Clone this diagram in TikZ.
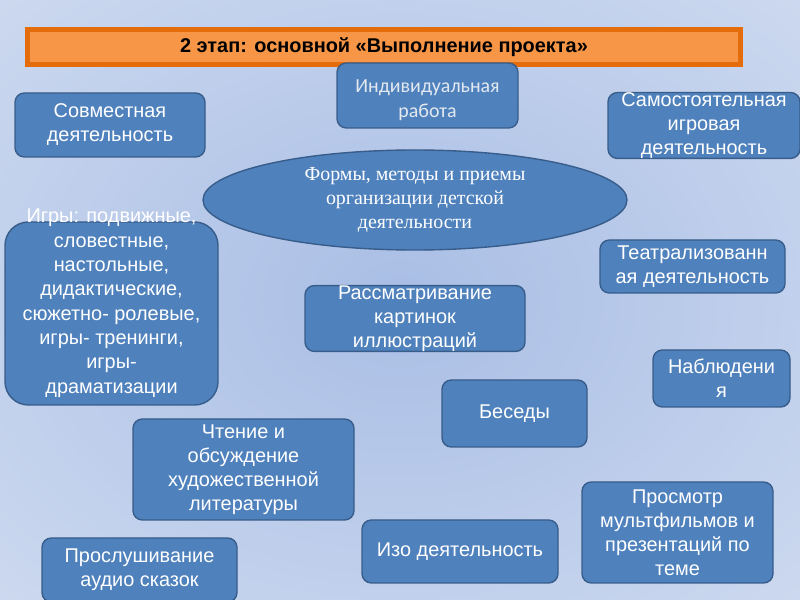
\documentclass[tikz,border=0pt]{standalone}
\usepackage{fontspec}
\setmainfont{Liberation Sans}
\newfontfamily\serifru{Liberation Serif}
\newfontfamily\calibriru{Carlito}
\usetikzlibrary{shapes.geometric}
\definecolor{boxblue}{HTML}{4F81BD}
\definecolor{boxline}{HTML}{385D8A}
\definecolor{barfill}{HTML}{F79646}
\definecolor{barline}{HTML}{E46C0A}
\definecolor{bgin}{HTML}{A9BEE5}
\definecolor{bgout}{HTML}{E6ECF6}
\definecolor{indtext}{HTML}{E4E9F0}
\pgfdeclareradialshading{bgshade}{\pgfpoint{0bp}{0bp}}{color(0bp)=(bgin); color(62bp)=(bgout); color(72bp)=(bgout)}

\begin{document}
\begin{tikzpicture}[
  x=0.03cm, y=-0.03cm,
  every node/.style={align=center, inner sep=0pt},
  boxsize/.style 2 args={minimum width=#1*0.03cm, minimum height=#2*0.03cm},
  form/.style={draw=boxline, line width=1.2pt, fill=boxblue, rounded corners=8pt,
    text=white, font=\fontsize{17}{20.5}\selectfont},
  head/.style={draw=barline, line width=4.5pt, fill=barfill,
    font=\bfseries\fontsize{17}{19}\selectfont},
  hub/.style={ellipse, draw=boxline, line width=1.2pt, fill=boxblue, text=white,
    font=\serifru\fontsize{17}{20.5}\selectfont}
]
\shade[shading=bgshade] (0,0) rectangle (800,600);
\useasboundingbox (0,0) rectangle (800,600);

\node[head, boxsize={713}{35}] (title) at (384,47) {2 этап: основной «Выполнение проекта»};

\node[form, boxsize={190}{64}] (sovm) at (110,125) {Совместная\\деятельность};
\node[form, boxsize={181}{65}, text=indtext, font=\calibriru\fontsize{17}{21.5}\selectfont]
  (indiv) at (427.5,95.5) {\raisebox{-8pt}[0pt][0pt]{\begin{tabular}{@{}c@{}}Индивидуальная\\работа\end{tabular}}};
\node[form, boxsize={192}{65}] (samost) at (704,125.5) {Самостоятельная\\игровая\\деятельность};

\node[hub, boxsize={424}{100}] (forms) at (415,200)
  {Формы, методы и приемы\\организации детской\\деятельности};

% text of this box runs over its top edge
\node[form, boxsize={213}{183}, rounded corners=20pt, font=\fontsize{17}{20.8}\selectfont]
  (igry) at (111.5,313.5)
  {\raisebox{4.5pt}[0pt][0pt]{\begin{tabular}{@{}c@{}}Игры: подвижные,\\словестные,\\настольные,\\дидактические,\\сюжетно- ролевые,\\игры- тренинги,\\игры-\\драматизации\end{tabular}}};
\node[form, boxsize={220}{63}] (rassm) at (415,318.5) {Рассматривание\\картинок\\иллюстраций};
\node[form, boxsize={185}{53}] (teatr) at (692.5,266.5) {Театрализованн\\ая деятельность};
\node[form, boxsize={137}{57}] (nabl) at (721.5,378.5) {Наблюдени\\я};
\node[form, boxsize={145}{67}] (besedy) at (514.5,413.5) {Беседы};

\node[form, boxsize={221}{101}] (chtenie) at (243.5,469.5)
  {Чтение и\\обсуждение\\художественной\\литературы};
\node[form, boxsize={195}{64}] (proslush) at (139.5,570) {Прослушивание\\аудио сказок};
\node[form, boxsize={196}{63}] (izo) at (460,551.5) {Изо деятельность};
\node[form, boxsize={191}{101}] (prosm) at (677.5,532.5)
  {Просмотр\\мультфильмов и\\презентаций по\\теме};
\end{tikzpicture}
\end{document}
